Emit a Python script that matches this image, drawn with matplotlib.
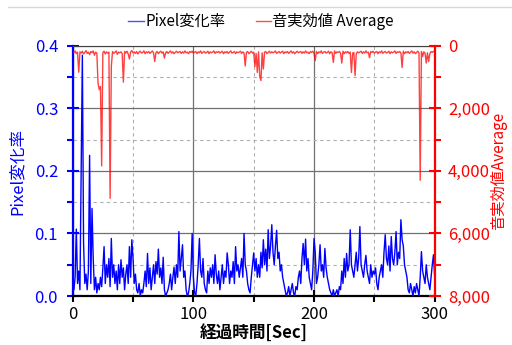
import matplotlib
matplotlib.use("Agg")
import matplotlib.pyplot as plt
from matplotlib.ticker import MultipleLocator, FuncFormatter
from matplotlib.lines import Line2D
import numpy as np

plt.rcParams['font.family'] = ['Noto Sans CJK JP', 'DejaVu Sans']

# time axis (seconds)
time_sec = list(range(0, 301))

# Pixel変化率 (left axis), one reading per second
pixel_rate = [
    0.02, 0.01, 0.03, 0.107, 0.02, 0.04, 0.01, 0.20, 0.385, 0.085,
    0.02, 0.035, 0.01, 0.04, 0.225, 0.02, 0.14, 0.06, 0.01, 0.03,
    0.005, 0.02, 0.01, 0.03, 0.015, 0.045, 0.079, 0.02, 0.05, 0.03,
    0.06, 0.015, 0.092, 0.03, 0.05, 0.02, 0.04, 0.01, 0.05, 0.02,
    0.058, 0.03, 0.045, 0.01, 0.035, 0.05, 0.02, 0.079, 0.03, 0.09,
    0.06, 0.02, 0.035, 0.01, 0.005, 0.02, 0.0, 0.01, 0.005, 0.02,
    0.04, 0.015, 0.068, 0.02, 0.045, 0.01, 0.03, 0.05, 0.02, 0.055,
    0.035, 0.075, 0.03, 0.045, 0.02, 0.062, 0.01, 0.0, 0.005, 0.01,
    0.02, 0.035, 0.01, 0.03, 0.046, 0.02, 0.05, 0.03, 0.103, 0.04,
    0.06, 0.082, 0.03, 0.04, 0.01, 0.0, 0.005, 0.02, 0.04, 0.100,
    0.03, 0.005, 0.0, 0.02, 0.05, 0.092, 0.04, 0.03, 0.06, 0.02,
    0.01, 0.005, 0.04, 0.02, 0.045, 0.03, 0.05, 0.02, 0.066, 0.035,
    0.02, 0.04, 0.01, 0.03, 0.05, 0.02, 0.04, 0.03, 0.069, 0.05,
    0.02, 0.04, 0.03, 0.055, 0.02, 0.079, 0.04, 0.05, 0.03, 0.045,
    0.06, 0.03, 0.100, 0.05, 0.04, 0.02, 0.01, 0.005, 0.03, 0.05,
    0.069, 0.04, 0.06, 0.03, 0.05, 0.03, 0.07, 0.045, 0.09, 0.05,
    0.075, 0.04, 0.106, 0.06, 0.08, 0.114, 0.07, 0.05, 0.08, 0.105,
    0.06, 0.07, 0.04, 0.05, 0.03, 0.02, 0.01, 0.0, 0.005, 0.015,
    0.0, 0.01, 0.02, 0.005, 0.0, 0.015, 0.01, 0.03, 0.04, 0.02,
    0.06, 0.084, 0.05, 0.091, 0.04, 0.06, 0.03, 0.02, 0.01, 0.04,
    0.092, 0.07, 0.02, 0.03, 0.05, 0.082, 0.04, 0.05, 0.03, 0.076,
    0.045, 0.03, 0.02, 0.01, 0.005, 0.0, 0.01, 0.0, 0.005, 0.01,
    0.0, 0.015, 0.01, 0.04, 0.02, 0.06, 0.03, 0.068, 0.04, 0.05,
    0.106, 0.05, 0.04, 0.03, 0.05, 0.07, 0.04, 0.06, 0.111, 0.05,
    0.04, 0.03, 0.05, 0.065, 0.04, 0.03, 0.02, 0.05, 0.03, 0.04,
    0.035, 0.045, 0.02, 0.01, 0.03, 0.04, 0.05, 0.03, 0.07, 0.098,
    0.06, 0.05, 0.08, 0.04, 0.095, 0.06, 0.05, 0.07, 0.103, 0.05,
    0.07, 0.06, 0.122, 0.09, 0.08, 0.05, 0.04, 0.03, 0.01, 0.005,
    0.02, 0.01, 0.0, 0.015, 0.005, 0.02, 0.01, 0.0, 0.03, 0.071,
    0.04, 0.03, 0.02, 0.05, 0.03, 0.02, 0.01, 0.03, 0.05, 0.066,
    0.03,
]

# 音実効値 Average (right axis, inverted), one reading per second
sound_rms = [
    180, 220, 160, 250, 200, 840, 190, 230, 170, 260,
    210, 150, 240, 200, 280, 180, 220, 160, 300, 200,
    230, 1200, 1400, 1300, 3840, 210, 170, 260, 190, 230,
    200, 4875, 660, 180, 240, 210, 160, 270, 200, 220,
    190, 250, 1160, 180, 230, 170, 260, 420, 200, 150,
    220, 190, 240, 180, 260, 200, 170, 230, 210, 160,
    250, 190, 220, 180, 240, 200, 160, 230, 500, 210,
    180, 250, 200, 170, 230, 190, 390, 220, 180, 240,
    200, 160, 230, 190, 250, 210, 170, 220, 200, 180,
    240, 190, 230, 160, 220, 200, 250, 180, 210, 170,
    230, 200, 180, 250, 190, 220, 160, 240, 200, 180,
    230, 210, 170, 250, 190, 220, 200, 160, 240, 190,
    210, 180, 230, 200, 170, 250, 190, 220, 180, 240,
    200, 160, 230, 210, 180, 250, 190, 220, 200, 170,
    240, 190, 230, 640, 200, 180, 250, 210, 170, 230,
    200, 660, 240, 850, 190, 980, 1110, 220, 740, 200,
    180, 250, 210, 170, 230, 190, 220, 200, 160, 240,
    210, 180, 230, 200, 170, 250, 190, 220, 180, 240,
    200, 160, 230, 190, 250, 210, 170, 220, 200, 180,
    240, 190, 230, 160, 220, 200, 250, 180, 210, 170,
    230, 470, 180, 250, 190, 220, 160, 240, 200, 180,
    230, 210, 170, 250, 190, 220, 530, 160, 240, 190,
    210, 180, 230, 550, 170, 250, 190, 220, 180, 240,
    200, 850, 230, 210, 950, 250, 190, 220, 200, 170,
    240, 190, 230, 160, 220, 200, 380, 180, 210, 170,
    230, 200, 180, 250, 190, 220, 160, 240, 200, 180,
    230, 210, 170, 250, 190, 220, 200, 160, 240, 190,
    210, 180, 230, 690, 170, 250, 190, 220, 180, 240,
    200, 160, 230, 190, 250, 210, 170, 220, 4300, 180,
    340, 190, 230, 550, 220, 500, 250, 180, 210, 170,
    200,
]

left_ticks = [0.0, 0.1, 0.2, 0.3, 0.4]
right_ticks = [0, 2000, 4000, 6000, 8000]
x_ticks = [0, 100, 200, 300]

fig = plt.figure(figsize=(5.12, 3.45), dpi=100)
ax = fig.add_axes([0.142, 0.142, 0.707, 0.725])
ax2 = ax.twinx()

BLUE = '#0000ff'
RED = '#ff0000'

l1, = ax.plot(time_sec, pixel_rate, color=BLUE, lw=1.0, alpha=1.0, label='Pixel変化率', zorder=3)
l2, = ax2.plot(time_sec, sound_rms, color=RED, lw=1.0, alpha=0.75, label='音実効値 Average', zorder=3)

ax.set_xlim(0, 300)
ax.set_ylim(0, 0.4)
ax2.set_ylim(8000, 0)

ax.set_xticks(x_ticks)
ax.xaxis.set_minor_locator(MultipleLocator(50))
ax.set_yticks(left_ticks)
ax.yaxis.set_minor_locator(MultipleLocator(0.05))
ax.yaxis.set_major_formatter(FuncFormatter(lambda v, p: f'{v:.1f}'))
ax2.set_yticks(right_ticks)
ax2.yaxis.set_minor_locator(MultipleLocator(1000))
ax2.yaxis.set_major_formatter(FuncFormatter(lambda v, p: f'{v:,.0f}'))

# grid
ax.grid(which='major', color='#707070', lw=0.9, ls='-', zorder=0)
ax.grid(which='minor', color='#b0b0b0', lw=0.8, ls=(0, (3, 3)), zorder=0)
ax.set_axisbelow(True)

# spines
ax.spines['top'].set_color('#404040')
ax2.spines['top'].set_visible(False)
ax.spines['bottom'].set_color('black')
ax.spines['bottom'].set_linewidth(1.6)
ax.spines['left'].set_color(BLUE)
ax.spines['left'].set_linewidth(1.6)
ax.spines['right'].set_visible(False)
ax2.spines['left'].set_visible(False)
ax2.spines['bottom'].set_visible(False)
ax2.spines['right'].set_color(RED)
ax2.spines['right'].set_linewidth(1.6)

ax.tick_params(axis='y', which='major', direction='inout', length=9, width=1.5, colors=BLUE, labelsize=12, pad=6)
ax.tick_params(axis='y', which='minor', direction='out', length=4, width=1.5, colors=BLUE)
ax.tick_params(axis='x', which='major', direction='inout', length=8, width=1.5, colors='black', labelsize=12, pad=3)
ax.tick_params(axis='x', which='minor', direction='out', length=4, width=1.5, colors='black')
ax2.tick_params(axis='y', which='major', direction='inout', length=9, width=1.5, colors=RED, labelsize=12, pad=5)
ax2.tick_params(axis='y', which='minor', direction='out', length=4, width=1.5, colors=RED)

ax.set_ylabel('Pixel変化率', color=BLUE, fontsize=12, labelpad=6)
ax2.set_ylabel('音実効値Average', color=RED, fontsize=11, labelpad=0)
ax.set_xlabel('経過時間[Sec]', color='black', fontsize=12, fontweight='bold', labelpad=1)

leg = fig.legend(handles=[l1, l2], loc='center', bbox_to_anchor=(0.51, 0.937), ncol=2, frameon=False,
                 fontsize=11, handlelength=1.0, handletextpad=0.1, columnspacing=2.0)
for h in leg.legend_handles:
    h.set_linewidth(1.0)
    h.set_alpha(0.7)

fig.add_artist(Line2D([0.016, 1.0], [1 - 7 / 345, 1 - 7 / 345], color='#d8d8d8', lw=1.0))

fig.savefig('out.png', dpi=100, facecolor='white')
